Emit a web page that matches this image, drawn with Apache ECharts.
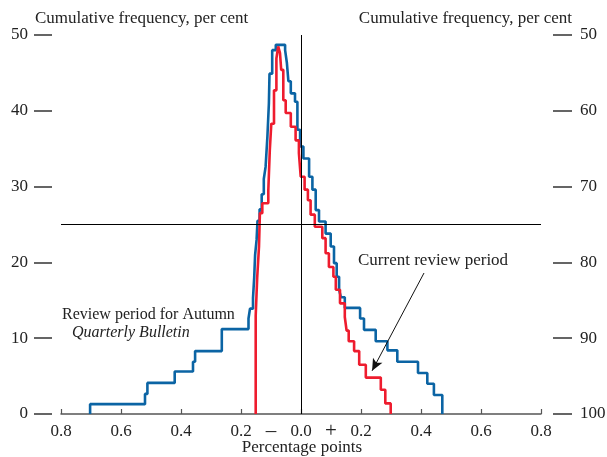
<!DOCTYPE html>
<html>
<head>
<meta charset="utf-8">
<script src="https://cdn.jsdelivr.net/npm/echarts@6/dist/echarts.min.js"></script>
<style>html,body{margin:0;padding:0;background:#fff;}#c{width:607px;height:457px;}</style>
</head>
<body>
<div id="c"></div>
<script>
// Review period for Autumn Quarterly Bulletin (blue): jump positions and folded cumulative levels
const blueX = [-0.703,-0.703,-0.520,-0.512,-0.421,-0.360,-0.353,-0.264,-0.175,-0.170,-0.160,-0.156,-0.153,-0.148,-0.145,-0.138,-0.131,-0.124,-0.118,-0.112,-0.107,-0.105,-0.096,-0.084,
  -0.053,-0.047,-0.042,-0.034,-0.020,-0.012,-0.003,0.008,0.027,0.038,0.049,0.060,0.082,0.099,0.110,0.119,0.127,0.133,0.146,0.197,0.210,0.249,0.288,0.321,0.390,0.421,0.443,0.471];
const blueY = [0,1.3,2.65,4.1,5.6,6.9,8.3,11.2,12.6,13.9,15.3,18.0,21.0,23.0,25.5,27.0,29.0,31.0,32.6,36.6,41.0,44.9,48.0,48.7,
  48.0,46.3,43.9,42.3,41.2,37.5,35.3,33.7,31.3,29.6,26.9,25.4,23.8,22.1,19.9,18.1,16.4,15.4,14.0,12.6,11.1,9.6,8.4,6.9,5.4,4.0,2.5,0];
// Current review period (red)
const redX = [-0.151,-0.151,-0.146,-0.140,-0.137,-0.129,-0.109,-0.104,-0.099,-0.090,-0.082,-0.076,
  -0.070,-0.066,-0.059,-0.051,-0.034,-0.018,-0.007,-0.001,0.012,0.023,0.032,0.046,0.071,0.082,0.093,0.108,0.116,0.130,0.146,0.152,0.159,0.177,0.194,0.216,0.266,0.281,0.299];
const redY = [0,13.0,18.0,22.1,26.5,27.8,29.5,34.8,38.3,42.7,46.9,48.5,
  47.6,45.4,41.4,39.7,37.9,36.1,34.4,31.3,29.6,28.2,26.3,24.7,23.2,21.2,19.4,18.1,16.4,14.6,12.8,11.0,9.6,8.3,6.5,4.8,3.2,1.4,0];
const leftTicks = [0,10,20,30,40,50];
const rightTicks = [50,60,70,80,90,100];
const arrowFrom = [0.41,18.6];
const arrowTo = [0.237,5.7];

const F = 'Liberation Serif';
const pair = (xs, ys) => xs.map((x, i) => [x, ys[i]]);
const chart = echarts.init(document.getElementById('c'));
chart.setOption({
  animation: false,
  grid: {left: 61, right: 66, top: 35, bottom: 43, containLabel: false, outerBoundsMode: 'none'},
  xAxis: [{
    type: 'value', min: -0.8, max: 0.8, interval: 0.2,
    axisLine: {show: true, onZero: false, lineStyle: {color: '#555', width: 1.5}},
    axisTick: {show: true, inside: true, length: 5, lineStyle: {color: '#555', width: 1.2}},
    splitLine: {show: false},
    axisLabel: {margin: 9, fontFamily: F, fontSize: 17, color: '#222',
      formatter: v => Math.abs(v).toFixed(1)}
  }, {
    type: 'value', min: -0.8, max: 0.8, interval: 0.1, position: 'bottom',
    axisLine: {show: false, onZero: false}, axisTick: {show: false}, splitLine: {show: false},
    axisLabel: {margin: 7, fontFamily: F, fontSize: 21, color: '#222',
      formatter: v => Math.abs(v + 0.1) < 1e-6 ? '\u2013' : (Math.abs(v - 0.1) < 1e-6 ? '+' : '')}
  }],
  yAxis: [{
    type: 'value', min: leftTicks[0], max: leftTicks[leftTicks.length-1], interval: 10,
    position: 'left', offset: 9,
    axisLine: {show: false, onZero: false},
    axisTick: {show: true, length: 18, lineStyle: {color: '#333', width: 1.5}},
    splitLine: {show: false},
    axisLabel: {margin: 24, fontFamily: F, fontSize: 17, color: '#222'}
  }, {
    type: 'value', min: rightTicks[0], max: rightTicks[rightTicks.length-1], interval: 10, inverse: true,
    position: 'right', offset: 12,
    axisLine: {show: false, onZero: false},
    axisTick: {show: true, length: 19, lineStyle: {color: '#333', width: 1.5}},
    splitLine: {show: false},
    axisLabel: {margin: 27, fontFamily: F, fontSize: 17, color: '#222'}
  }],
  series: [{
    type: 'line', name: 'Review period for Autumn Quarterly Bulletin', step: 'end',
    data: pair(blueX, blueY), showSymbol: false, symbol: 'none',
    lineStyle: {color: '#0b64a4', width: 2.6}, z: 2,
    markLine: {silent: true, symbol: 'none', label: {show: false},
      lineStyle: {color: '#000', width: 1, type: 'solid'},
      data: [{yAxis: 25}, {xAxis: 0}]}
  }, {
    type: 'line', name: 'Current review period', step: 'end',
    data: pair(redX, redY), showSymbol: false, symbol: 'none',
    lineStyle: {color: '#ee1c2e', width: 2.6}, z: 3,
    markLine: {silent: true, symbol: ['none', 'arrow'], symbolSize: [8, 12], label: {show: false},
      lineStyle: {color: '#111', width: 1, type: 'solid'},
      data: [[{coord: arrowFrom}, {coord: arrowTo}]]}
  }],
  graphic: [
    {type: 'text', left: 35, top: 10, style: {text: 'Cumulative frequency, per cent', font: '17px "Liberation Serif"', fill: '#222'}},
    {type: 'text', right: 35, top: 10, style: {text: 'Cumulative frequency, per cent', font: '17px "Liberation Serif"', fill: '#222'}},
    {type: 'text', x: 302, y: 448, style: {text: 'Percentage points', font: '17px "Liberation Serif"', fill: '#222', align: 'center', verticalAlign: 'middle'}},
    {type: 'text', left: 358, top: 252, style: {text: 'Current review period', font: '17px "Liberation Serif"', fill: '#222'}},
    {type: 'text', left: 62, top: 307, style: {text: 'Review period for Autumn', font: '16px "Liberation Serif"', fill: '#222'}},
    {type: 'text', left: 72, top: 325, style: {text: 'Quarterly Bulletin', font: 'italic 16px "Liberation Serif"', fill: '#222'}}
  ]
});
</script>
</body>
</html>
